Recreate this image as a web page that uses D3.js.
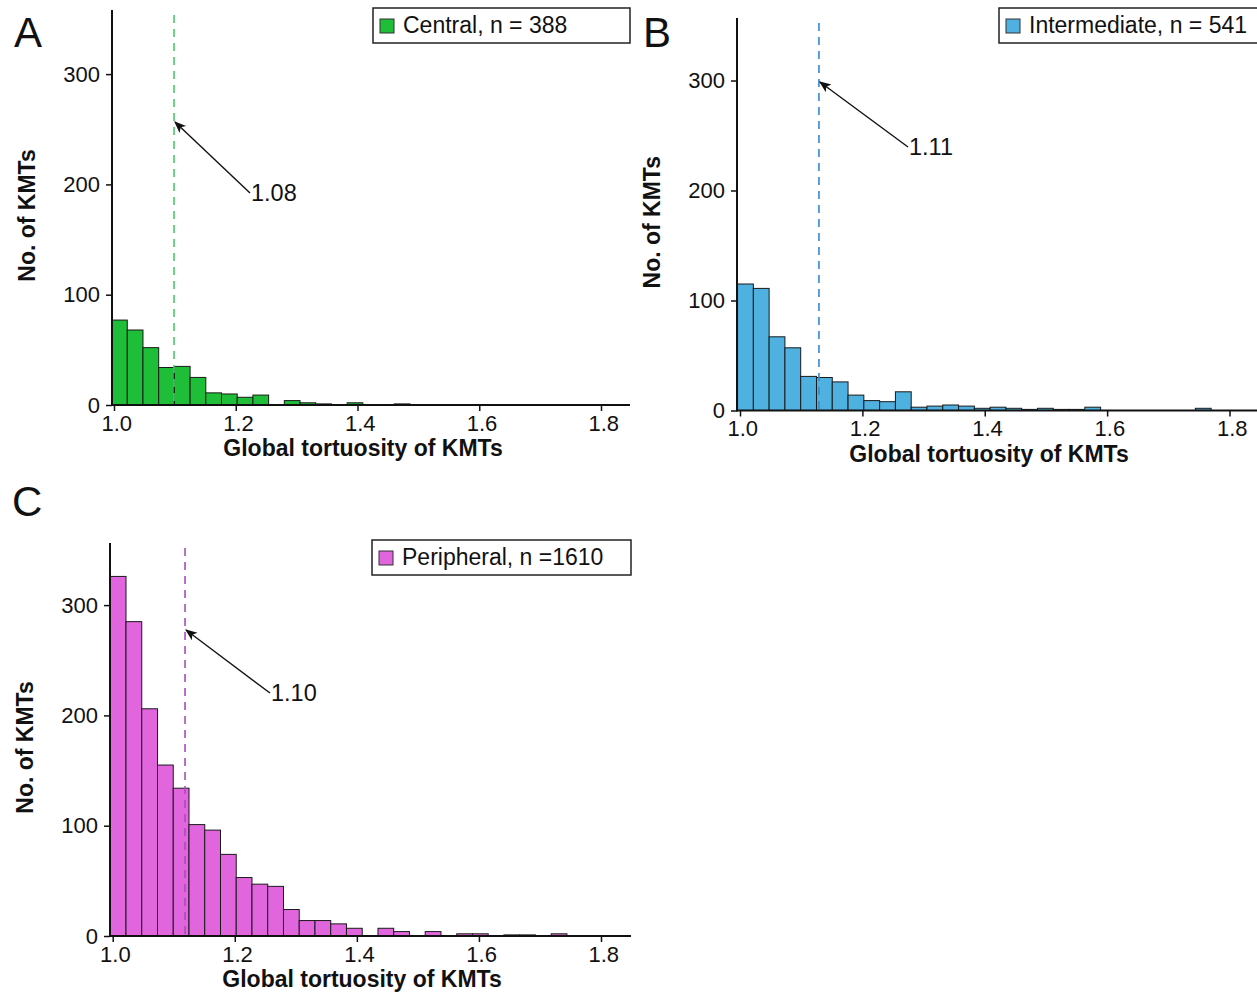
<!DOCTYPE html>
<html>
<head>
<meta charset="utf-8">
<script src="https://cdn.jsdelivr.net/npm/d3@7"></script>
<style>
  html, body { margin: 0; padding: 0; background: #fff; }
  svg { display: block; font-family: "Liberation Sans", Arial, sans-serif; }
</style>
</head>
<body>
<svg id="chart" width="1257" height="995"></svg>
<script>
// ---------------- DATA ----------------
const binStart = 0.996;
const binWidth = 0.0258;
const centralCounts = [77, 68, 52, 34, 35, 25, 11, 10, 7, 9, 0, 4, 2, 1, 0, 2, 0, 0, 1];
const intermediateCounts = [115, 111, 67, 57, 31, 30, 26, 14, 9, 8, 17, 3, 4, 5, 4, 2, 3, 2, 1, 2, 1, 1, 3, 0, 0, 0, 0, 0, 0, 2];
const peripheralCounts = [326, 285, 206, 155, 134, 101, 96, 74, 53, 47, 45, 24, 14, 14, 11, 7, 0, 7, 4, 0, 4, 0, 2, 2, 0, 1, 1, 0, 2];
const xTicks = [1.0, 1.2, 1.4, 1.6, 1.8];
const yTicks = [0, 100, 200, 300];
const legendLabels = ["Central, n = 388", "Intermediate, n = 541", "Peripheral, n =1610"];
const meanLines = [1.0986, 1.129, 1.1185];
const meanLabels = ["1.08", "1.11", "1.10"];
const arrowHeads = [256.6, 298.6, 277.4];        // y (count) where arrow meets the line
const arrowTails = [[1.2234, 192.2], [1.2746, 239.5], [1.2577, 220.3]]; // [x, count]
const panelLetters = ["A", "B", "C"];
const xTitle = "Global tortuosity of KMTs";
const yTitle = "No. of KMTs";

// ---------------- LAYOUT / STYLE ----------------
const panels = [
  { counts: centralCounts, fill: "#1fbe38", dash: "#4cc86a",
    x0: 114, x1: 601, axisLeft: 112, axisRight: 630, y0: 405, pxPerUnit: 1.103, top: 10,
    letter: [14, 47], legend: [373, 8, 257, 35], xTitleX: 363, yTitleX: 27 },
  { counts: intermediateCounts, fill: "#4fb1e0", dash: "#3a88c8",
    x0: 740, x1: 1229.5, axisLeft: 737, axisRight: 1257, y0: 410.5, pxPerUnit: 1.1, top: 18,
    letter: [643, 47], legend: [999, 8, 262, 35], xTitleX: 989, yTitleX: 652 },
  { counts: peripheralCounts, fill: "#e166dd", dash: "#a94cb9",
    x0: 112.7, x1: 601, axisLeft: 110, axisRight: 631, y0: 936, pxPerUnit: 1.103, top: 543,
    letter: [12, 516], legend: [372, 540, 259, 35], xTitleX: 362, yTitleX: 25 }
];

const svg = d3.select("#chart");
const defs = svg.append("defs");
defs.append("marker")
  .attr("id", "arrow").attr("viewBox", "0 0 10 10")
  .attr("refX", 9).attr("refY", 5)
  .attr("markerWidth", 12).attr("markerHeight", 12)
  .attr("markerUnits", "userSpaceOnUse")
  .attr("orient", "auto")
  .append("path").attr("d", "M0,1 L10,5 L0,9 L2.5,5 Z").attr("fill", "#111");

panels.forEach((p, i) => {
  const g = svg.append("g");
  const x = d3.scaleLinear().domain([1.0, 1.8]).range([p.x0, p.x1]);
  const yMax = (p.y0 - p.top) / p.pxPerUnit;
  const y = d3.scaleLinear().domain([0, yMax]).range([p.y0, p.top]);

  // bars
  g.append("g").selectAll("rect")
    .data(p.counts.map((c, k) => ({ c, k })).filter(d => d.c > 0))
    .join("rect")
    .attr("x", d => x(binStart + d.k * binWidth))
    .attr("width", d => x(binStart + (d.k + 1) * binWidth) - x(binStart + d.k * binWidth))
    .attr("y", d => y(d.c))
    .attr("height", d => y(0) - y(d.c))
    .attr("fill", p.fill)
    .attr("stroke", "#1a1a1a")
    .attr("stroke-width", 1);

  // mean line
  g.append("line")
    .attr("x1", x(meanLines[i])).attr("x2", x(meanLines[i]))
    .attr("y1", p.top + 5).attr("y2", p.y0)
    .attr("stroke", p.dash).attr("stroke-width", 1.6)
    .attr("stroke-dasharray", "8,6");

  // arrow + annotation
  const t = arrowTails[i];
  g.append("line")
    .attr("x1", x(t[0])).attr("y1", y(t[1]))
    .attr("x2", x(meanLines[i]) + 1).attr("y2", y(arrowHeads[i]))
    .attr("stroke", "#111").attr("stroke-width", 1.4)
    .attr("marker-end", "url(#arrow)");
  g.append("text")
    .attr("x", x(t[0]) + 1).attr("y", y(t[1]) + 2)
    .attr("dominant-baseline", "middle")
    .attr("font-size", 23.5).attr("fill", "#111")
    .text(meanLabels[i]);

  // axes
  const xAxis = d3.axisBottom(x).tickValues(xTicks).tickFormat(d3.format(".1f"))
    .tickSize(6).tickSizeOuter(0);
  const gx = g.append("g").attr("transform", `translate(0,${p.y0})`).call(xAxis);
  gx.select(".domain").remove();
  gx.append("line").attr("x1", p.axisLeft).attr("x2", p.axisRight)
    .attr("stroke", "#111").attr("stroke-width", 2);
  gx.selectAll(".tick line").attr("stroke", "#111").attr("stroke-width", 1.5);
  gx.selectAll(".tick text").attr("font-size", 22).attr("fill", "#111")
    .attr("font-family", "Liberation Sans, Arial, sans-serif")
    .attr("dx", "0.1em").attr("dy", "0.75em");

  const yAxis = d3.axisLeft(y).tickValues(yTicks).tickSize(6).tickSizeOuter(0);
  const gy = g.append("g").attr("transform", `translate(${p.axisLeft},0)`).call(yAxis);
  gy.select(".domain").remove();
  gy.append("line").attr("y1", p.top).attr("y2", p.y0 + 1)
    .attr("stroke", "#111").attr("stroke-width", 2);
  gy.selectAll(".tick line").attr("stroke", "#111").attr("stroke-width", 1.5);
  gy.selectAll(".tick text").attr("font-size", 22).attr("fill", "#111")
    .attr("font-family", "Liberation Sans, Arial, sans-serif").attr("x", -12);

  // axis titles
  g.append("text")
    .attr("x", p.xTitleX).attr("y", p.y0 + 51)
    .attr("text-anchor", "middle").attr("font-weight", "bold")
    .attr("font-size", 23).attr("fill", "#111")
    .text(xTitle);
  g.append("text")
    .attr("transform", `translate(${p.yTitleX + 8},${(p.top + p.y0) / 2 + 8}) rotate(-90)`)
    .attr("text-anchor", "middle").attr("font-weight", "bold")
    .attr("font-size", 23).attr("fill", "#111")
    .text(yTitle);

  // panel letter
  g.append("text")
    .attr("x", p.letter[0]).attr("y", p.letter[1])
    .attr("font-size", 42).attr("fill", "#111")
    .text(panelLetters[i]);

  // legend
  const [lx, ly, lw, lh] = p.legend;
  const lg = g.append("g");
  lg.append("rect").attr("x", lx).attr("y", ly).attr("width", lw).attr("height", lh)
    .attr("fill", "#fff").attr("stroke", "#222").attr("stroke-width", 1.5);
  lg.append("rect").attr("x", lx + 7).attr("y", ly + 11).attr("width", 14).attr("height", 14)
    .attr("fill", p.fill).attr("stroke", "#333").attr("stroke-width", 1);
  lg.append("text").attr("x", lx + 30).attr("y", ly + lh / 2 + 1)
    .attr("dominant-baseline", "middle")
    .attr("font-size", 23).attr("fill", "#111")
    .text(legendLabels[i]);
});
</script>
</body>
</html>
